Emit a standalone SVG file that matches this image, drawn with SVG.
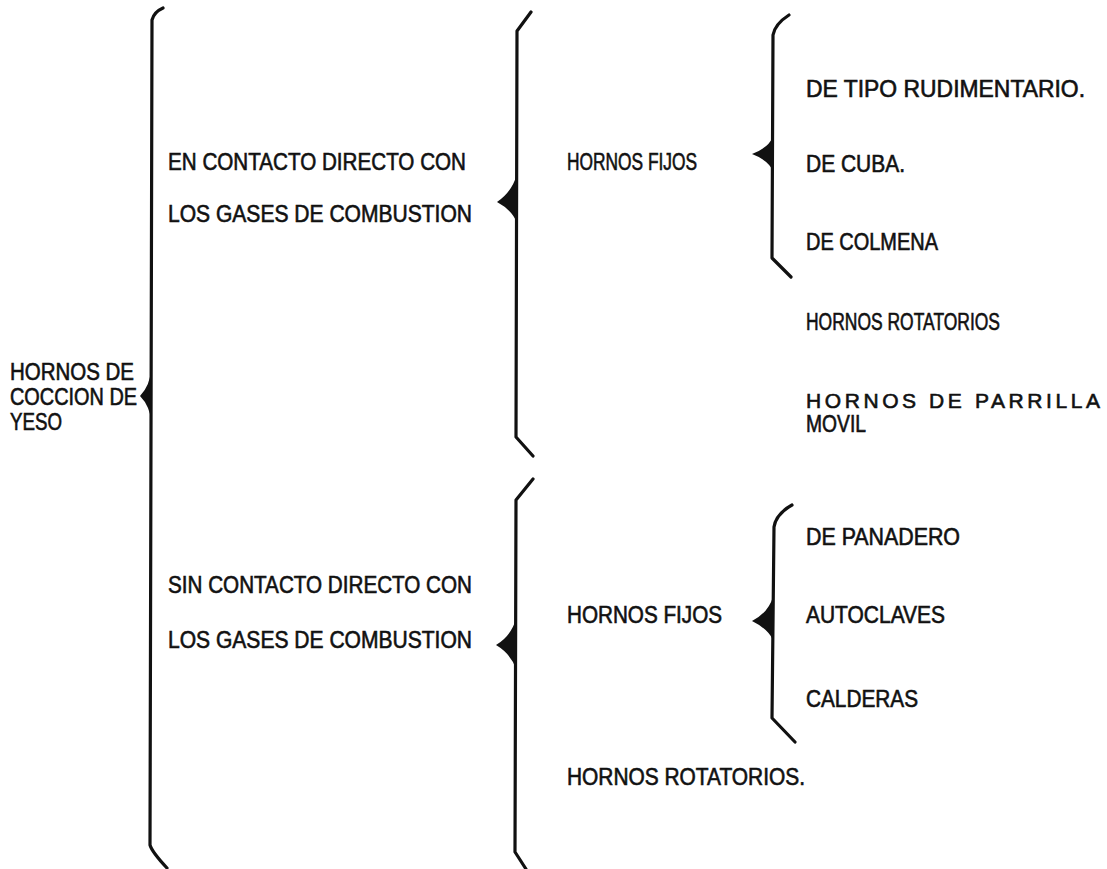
<svg xmlns="http://www.w3.org/2000/svg" width="1107" height="869" viewBox="0 0 1107 869">
<style>
.b{fill:none;stroke:#111;stroke-width:3.2;stroke-linecap:round;stroke-linejoin:round}
.t{fill:#111}
text{font-family:"Liberation Sans",Arial,sans-serif;font-size:23px;fill:#111;stroke:#111;stroke-width:0.6}
</style>
<rect width="1107" height="869" fill="#fff"/>
<g id="connectors">
<path class="b" d="M163,8 Q154,12 152,20 L150,845 Q152,852 167,868"/>
<path class="t" d="M152,366 Q150,386 140,396 Q150,406 152,424 Z"/>
<path class="b" d="M531,12 L517,31 L516,437 L533,456"/>
<path class="t" d="M517,174 Q512,192 497,202 Q512,210 517,223 Z"/>
<path class="b" d="M533,479 L516,500 L515,852 L526,869"/>
<path class="t" d="M516,619 Q511,636 496,645 Q511,654 516,669 Z"/>
<path class="b" d="M789,15 Q775,24 773,35 L772,258 L791,277"/>
<path class="t" d="M773,137 Q768,148 752,154 Q768,160 773,171 Z"/>
<path class="b" d="M792,505 Q776,514 774,527 L772,718 L795,742"/>
<path class="t" d="M773,597 Q768,613 752,621 Q768,629 773,640 Z"/>
</g>
<g id="n-root">
<text x="10" y="380" textLength="124" lengthAdjust="spacingAndGlyphs">HORNOS DE</text>
<text x="10" y="405" textLength="127" lengthAdjust="spacingAndGlyphs">COCCION DE</text>
<text x="10" y="430" textLength="52" lengthAdjust="spacingAndGlyphs">YESO</text>
</g>
<g id="n-contacto">
<text x="168" y="170" textLength="298" lengthAdjust="spacingAndGlyphs">EN CONTACTO DIRECTO CON</text>
<text x="168" y="222" textLength="304" lengthAdjust="spacingAndGlyphs">LOS GASES DE COMBUSTION</text>
</g>
<g id="n-fijos1"><text x="567" y="170" textLength="130" lengthAdjust="spacingAndGlyphs">HORNOS FIJOS</text></g>
<g id="n-rudimentario"><text x="806" y="97" textLength="279" lengthAdjust="spacingAndGlyphs">DE TIPO RUDIMENTARIO.</text></g>
<g id="n-cuba"><text x="806" y="172" textLength="99" lengthAdjust="spacingAndGlyphs">DE CUBA.</text></g>
<g id="n-colmena"><text x="806" y="250" textLength="132" lengthAdjust="spacingAndGlyphs">DE COLMENA</text></g>
<g id="n-rotatorios1"><text x="806" y="330" textLength="194" lengthAdjust="spacingAndGlyphs">HORNOS ROTATORIOS</text></g>
<g id="n-parrilla">
<text x="806" y="408" textLength="294" lengthAdjust="spacing" style="font-size:21px">HORNOS DE PARRILLA</text>
<text x="806" y="432" textLength="60" lengthAdjust="spacingAndGlyphs">MOVIL</text>
</g>
<g id="n-sincontacto">
<text x="168" y="593" textLength="304" lengthAdjust="spacingAndGlyphs">SIN CONTACTO DIRECTO CON</text>
<text x="168" y="648" textLength="304" lengthAdjust="spacingAndGlyphs">LOS GASES DE COMBUSTION</text>
</g>
<g id="n-fijos2"><text x="567" y="623" textLength="155" lengthAdjust="spacingAndGlyphs">HORNOS FIJOS</text></g>
<g id="n-panadero"><text x="806" y="545" textLength="154" lengthAdjust="spacingAndGlyphs">DE PANADERO</text></g>
<g id="n-autoclaves"><text x="806" y="623" textLength="139" lengthAdjust="spacingAndGlyphs">AUTOCLAVES</text></g>
<g id="n-calderas"><text x="806" y="707" textLength="112" lengthAdjust="spacingAndGlyphs">CALDERAS</text></g>
<g id="n-rotatorios2"><text x="567" y="785" textLength="238" lengthAdjust="spacingAndGlyphs">HORNOS ROTATORIOS.</text></g>
</svg>
